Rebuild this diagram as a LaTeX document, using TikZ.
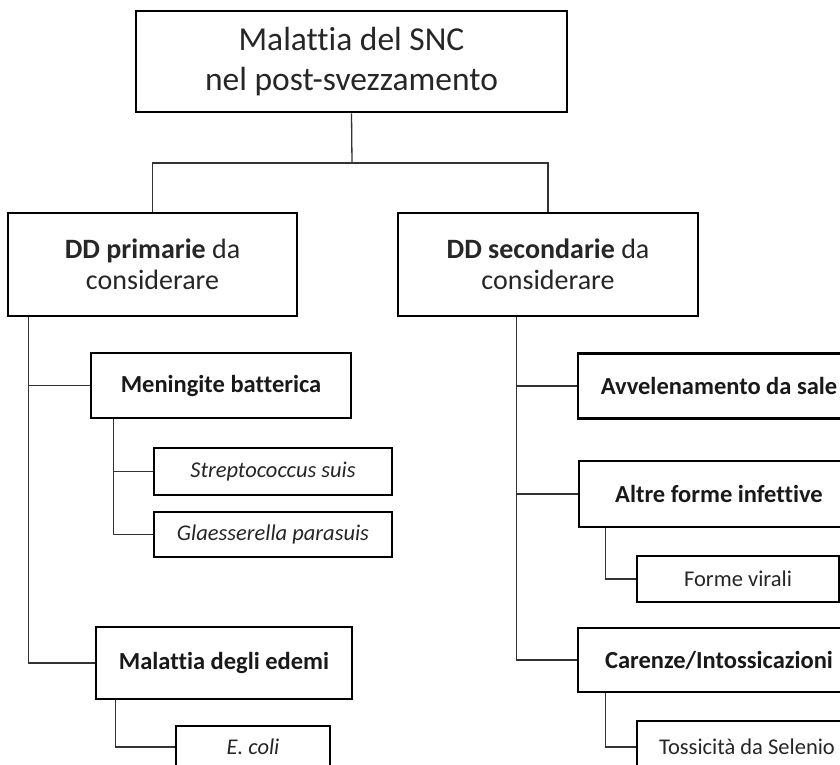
\documentclass[tikz,border=0pt]{standalone}
\usepackage{fontspec}
\setmainfont{Carlito}[Ligatures=CommonOff]
\begin{document}
\begin{tikzpicture}[x=1pt,y=-1pt,
  box/.style={draw=black,line width=2.6pt,rectangle,inner sep=0pt,align=center,fill=white},
  conn/.style={draw=black!80,line width=1.3pt},
  ftitle/.style={font=\fontsize{33.5}{40}\selectfont,text=black!85},
  fdd/.style={font=\fontsize{28}{31.5}\selectfont,text=black!85},
  fmid/.style={font=\bfseries\fontsize{24.5}{28}\selectfont,text=black!90},
  fleaf/.style={font=\fontsize{22.5}{26}\selectfont,text=black!85}]
\useasboundingbox (0,0) rectangle (840,764);
\clip (0,0) rectangle (840,764);
\node[box,ftitle,minimum width=431pt,minimum height=101pt] (top) at (351.5,61.5) {Malattia del SNC\\nel post-svezzamento};
\node[box,fdd,minimum width=289pt,minimum height=103pt] (prim) at (152.5,264.5) {\textbf{DD primarie} da\\considerare};
\node[box,fdd,minimum width=300pt,minimum height=103pt] (sec) at (548,264.5) {\textbf{DD secondarie} da\\considerare};
% left branch
\node[box,fmid,minimum width=260pt,minimum height=65pt] (men) at (221,385.5) {Meningite batterica};
\node[box,fleaf,minimum width=238pt,minimum height=47pt] (strep) at (273,471.5) {\itshape Streptococcus suis};
\node[box,fleaf,minimum width=238pt,minimum height=45pt] (glae) at (273,534.5) {\itshape Glaesserella parasuis};
\node[box,fmid,minimum width=256pt,minimum height=72pt] (ede) at (224,663) {Malattia degli edemi};
\node[box,fleaf,minimum width=154pt,minimum height=42pt] (ecoli) at (253,747) {\itshape E. coli};
% right branch
\node[box,fmid,minimum width=282pt,minimum height=65pt] (avv) at (719,386) {Avvelenamento da sale};
\node[box,fmid,minimum width=280pt,minimum height=66pt] (altre) at (719,494) {Altre forme infettive};
\node[box,fleaf,minimum width=202pt,minimum height=46pt] (vir) at (738,579) {Forme virali};
\node[box,fmid,minimum width=282pt,minimum height=64pt] (car) at (719,660) {Carenze/Intossicazioni};
\node[box,fleaf,minimum width=220pt,minimum height=52pt] (tos) at (747,747) {Tossicità da Selenio};
% connectors
\coordinate (j) at (352,163);
\draw[conn] (top.south) -- (j);
\draw[conn] (j) -| (prim.north);
\draw[conn] (j) -| (sec.north);
\coordinate (pl) at ([xshift=22pt]prim.south west);
\draw[conn] (pl) |- (men.west);
\draw[conn] (pl) |- (ede.west);
\coordinate (ml) at ([xshift=24pt]men.south west);
\draw[conn] (ml) |- (strep.west);
\draw[conn] (ml) |- (glae.west);
\coordinate (el) at ([xshift=21pt]ede.south west);
\draw[conn] (el) |- (ecoli.west);
\coordinate (sl) at ([xshift=120pt]sec.south west);
\draw[conn] (sl) |- (avv.west);
\draw[conn] (sl) |- (altre.west);
\draw[conn] (sl) |- (car.west);
\coordinate (al) at ([xshift=28pt]altre.south west);
\draw[conn] (al) |- (vir.west);
\coordinate (cl) at ([xshift=29pt]car.south west);
\draw[conn] (cl) |- (tos.west);
\end{tikzpicture}
\end{document}
